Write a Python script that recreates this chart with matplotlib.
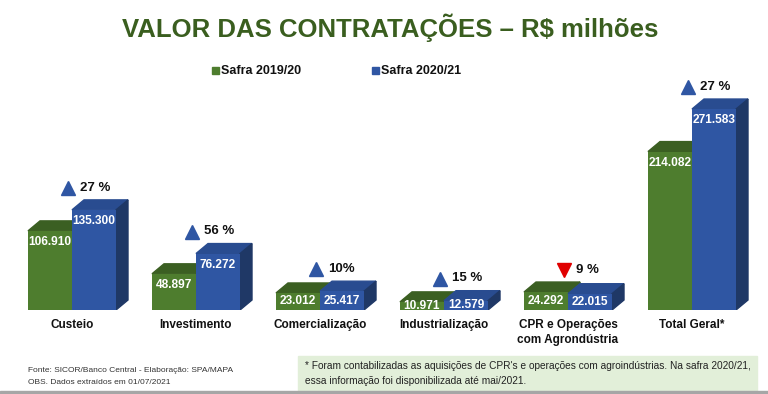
import numpy as np
import matplotlib.pyplot as plt
from matplotlib.patches import Polygon, Rectangle

# ================================
# Data
# ================================
categories = ["Custeio", "Investimento", "Comercialização", "Industrialização",
              "CPR e Operações\ncom Agrondústria", "Total Geral*"]
safra_1920 = [106.910, 48.897, 23.012, 10.971, 24.292, 214.082]
safra_2021 = [135.300, 76.272, 25.417, 12.579, 22.015, 271.583]
var_labels = ["27 %", "56 %", "10%", "15 %", "9 %", "27 %"]
series_names = ["Safra 2019/20", "Safra 2020/21"]

def fmt(v):
    return f"{v:.3f}"

# ================================
# Style
# ================================
plt.rcParams['font.family'] = ['Liberation Sans', 'DejaVu Sans']
W, H = 768, 394
green_front, green_top = '#4e7d2e', '#3b5f22'
blue_front, blue_top, blue_side = '#2f56a3', '#294c90', '#1f3866'
bar_w = 44 / 124        # in category units
dx = 12 / 124           # depth offset, category units
px_per_k = 0.74         # pixels per unit of value
dy = 10 / px_per_k      # depth offset in value units

fig = plt.figure(figsize=(W / 100, H / 100), dpi=100)
fig.patch.set_facecolor('white')

# axes: baseline at y=310 px, category 0 centred at x=72 px, step 124 px
ax_top_px, base_px = 60, 310
ax = fig.add_axes([0, (H - base_px) / H, 1, (base_px - ax_top_px) / H])
ax.set_xlim(-72 / 124, (W - 72) / 124)
ax.set_ylim(0, (base_px - ax_top_px) / px_per_k)
ax.axis('off')

x = np.arange(len(categories))
x_g = x - bar_w
x_b = x.astype(float)

# green bars (front + top)
ax.bar(x_g, safra_1920, width=bar_w, align='edge', color=green_front, zorder=2)
for xi, h in zip(x_g, safra_1920):
    ax.add_patch(Polygon([(xi, h), (xi + bar_w, h), (xi + bar_w + dx, h + dy), (xi + dx, h + dy)],
                         closed=True, color=green_top, zorder=1))
    ax.add_patch(Polygon([(xi + bar_w, 0), (xi + bar_w + dx, dy), (xi + bar_w + dx, h + dy), (xi + bar_w, h)],
                         closed=True, color=green_top, zorder=1))

# blue bars (front + top + side)
ax.bar(x_b, safra_2021, width=bar_w, align='edge', color=blue_front, zorder=4)
for xi, h in zip(x_b, safra_2021):
    ax.add_patch(Polygon([(xi, h), (xi + bar_w, h), (xi + bar_w + dx, h + dy), (xi + dx, h + dy)],
                         closed=True, color=blue_top, zorder=3))
    ax.add_patch(Polygon([(xi + bar_w, 0), (xi + bar_w + dx, dy), (xi + bar_w + dx, h + dy), (xi + bar_w, h)],
                         closed=True, color=blue_side, zorder=3))

# value labels inside the front faces
for xs, vals in [(x_g, safra_1920), (x_b, safra_2021)]:
    for xi, h in zip(xs, vals):
        ylab = max(h - 11 / px_per_k, h / 2)
        ax.text(xi + bar_w / 2, ylab, fmt(h), ha='center', va='center', color='white',
                fontsize=8.6, fontweight='bold', zorder=6)

# variation markers
for xi, g, b, lab in zip(x, safra_1920, safra_2021, var_labels):
    top = max(g, b)
    up = b >= g
    mk = '^' if up else 'v'
    col = '#2f56a3' if up else '#e00000'
    ax.plot(xi - 0.03, top + 22 / px_per_k, marker=mk, color=col, markersize=9.5,
            linestyle='none', zorder=6, clip_on=False)
    ax.annotate(lab, (xi, top), xytext=(6, 16), textcoords='offset points',
                ha='left', va='center', fontsize=9.5, fontweight='bold',
                color='#111111', zorder=6, annotation_clip=False)

# category labels
for xi, cat in zip(x, categories):
    ax.annotate(cat, (xi, 0), xytext=(0, -6.5), textcoords='offset points',
                ha='center', va='top', fontsize=8.5, fontweight='bold',
                color='#111111', linespacing=1.3, annotation_clip=False)

# ================================
# Title and legend
# ================================
fig.text(390 / W, 1 - 28 / H, "VALOR DAS CONTRATAÇÕES – R$ milhões", ha='center', va='center',
         fontsize=18.5, fontweight='bold', color='#3a5e1f')

for xpx, col, name in [(212, green_front, series_names[0]), (372, blue_front, series_names[1])]:
    fig.add_artist(Rectangle((xpx / W, 1 - 74 / H), 7 / W, 7 / H, transform=fig.transFigure,
                             color=col))
    fig.text((xpx + 9) / W, 1 - 71 / H, name, ha='left', va='center',
             fontsize=9, fontweight='bold', color='#111111')

# ================================
# Footer
# ================================
fig.text(28 / W, 1 - 370 / H, "Fonte: SICOR/Banco Central - Elaboração: SPA/MAPA",
         ha='left', va='center', fontsize=6.0, color='#333333')
fig.text(28 / W, 1 - 382 / H, "OBS. Dados extraídos em 01/07/2021",
         ha='left', va='center', fontsize=6.0, color='#333333')

fig.add_artist(Rectangle((298 / W, 1 - 391 / H), 459 / W, 35 / H, transform=fig.transFigure,
                         color='#e2efd9', zorder=0))
fig.text(305 / W, 1 - 366 / H,
         "* Foram contabilizadas as aquisições de CPR's e operações com agroindústrias. Na safra 2020/21,",
         ha='left', va='center', fontsize=7.25, color='#222222')
fig.text(305 / W, 1 - 381 / H, "essa informação foi disponibilizada até mai/2021.",
         ha='left', va='center', fontsize=7.25, color='#222222')

fig.add_artist(Rectangle((0, 0), 1, 3 / H, transform=fig.transFigure, color='#a6a6a6'))

plt.savefig("out.png", dpi=100)
